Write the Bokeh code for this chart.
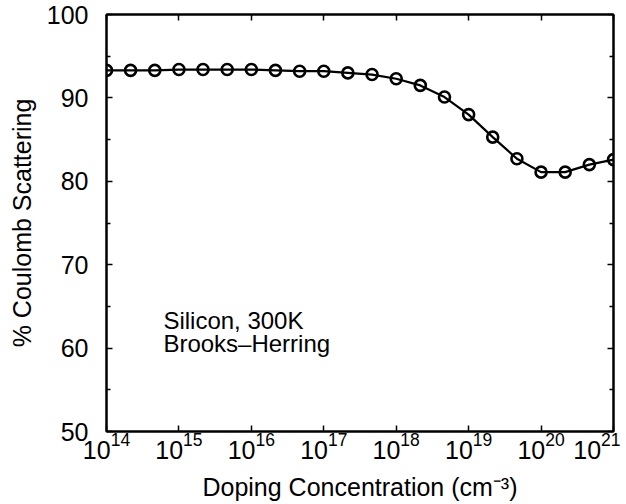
from bokeh.plotting import figure
from bokeh.models import Range1d, FixedTicker, LinearAxis, LogTickFormatter
from bokeh.core.properties import value
from bokeh.embed import file_html
from bokeh.resources import INLINE

# --- data ---
doping = [1e14, 2.15e14, 4.64e14, 1e15, 2.15e15, 4.64e15, 1e16, 2.15e16, 4.64e16,
          1e17, 2.15e17, 4.64e17, 1e18, 2.15e18, 4.64e18, 1e19, 2.15e19, 4.64e19,
          1e20, 2.15e20, 4.64e20, 1e21]
coulomb_pct = [93.3, 93.3, 93.3, 93.4, 93.4, 93.4, 93.4, 93.3, 93.2,
               93.2, 93.0, 92.8, 92.3, 91.5, 90.1, 88.0, 85.3, 82.7,
               81.1, 81.1, 82.0, 82.6]
x_ticks = [1e14, 1e15, 1e16, 1e17, 1e18, 1e19, 1e20, 1e21]
y_ticks = [50, 60, 70, 80, 90, 100]
y_minor = [55, 65, 75, 85, 95]
note_lines = ["Silicon, 300K", "Brooks\u2013Herring"]
note_x = [6.1e14, 6.1e14]
note_y = [63.3, 60.55]

FONT = "Liberation Sans"
FS = "25px"

p = figure(width=620, height=503, x_axis_type="log",
           x_range=Range1d(1e14, 1e21), y_range=Range1d(50, 100),
           output_backend="svg", toolbar_location=None,
           min_border_left=106, min_border_right=7, min_border_top=14, min_border_bottom=71)
p.grid.visible = False
p.outline_line_color = "black"
p.outline_line_width = 2
p.background_fill_color = "white"
p.border_fill_color = "white"

xt = FixedTicker(ticks=x_ticks, minor_ticks=[])
yt = FixedTicker(ticks=y_ticks, minor_ticks=y_minor)

def style(ax, labels=True):
    ax.axis_line_color = "black"
    ax.axis_line_width = 2
    ax.major_tick_line_color = "black"
    ax.major_tick_line_width = 1.5
    ax.minor_tick_line_color = "black"
    ax.minor_tick_line_width = 1.5
    ax.major_tick_in = 6
    ax.major_tick_out = 0
    ax.minor_tick_in = 4
    ax.minor_tick_out = 0
    ax.major_label_text_font = FONT
    ax.major_label_text_color = "black"
    ax.axis_label_text_font = FONT
    ax.axis_label_text_font_style = "normal"
    ax.axis_label_text_color = "black"
    if labels:
        ax.major_label_text_font_size = FS
        ax.axis_label_text_font_size = FS
    else:
        ax.major_label_text_font_size = "1px"
        ax.major_label_text_alpha = 0
        ax.major_label_standoff = 0

xa = p.xaxis[0]
xa.ticker = xt
xa.formatter = LogTickFormatter()
style(xa)
xa.major_label_standoff = 0
xa.axis_label = "Doping Concentration (cm\u207b\u00b3)"
xa.axis_label_standoff = 11

ya = p.yaxis[0]
ya.ticker = yt
style(ya)
ya.major_label_standoff = 18
ya.axis_label = "% Coulomb Scattering"
ya.axis_label_standoff = 8

top = LinearAxis(ticker=xt)
style(top, labels=False)
p.add_layout(top, "above")
right = LinearAxis(ticker=yt)
style(right, labels=False)
p.add_layout(right, "right")

p.line(doping, coulomb_pct, line_color="black", line_width=2.2)
p.scatter(doping, coulomb_pct, marker="circle", size=11, fill_color=None,
          line_color="black", line_width=2.6)

p.text(x=note_x, y=note_y, text=note_lines, text_font=value(FONT),
       text_font_size="24px", text_color="black", text_align="left",
       text_baseline="alphabetic")

open("out.html", "w").write(file_html(p, INLINE))
